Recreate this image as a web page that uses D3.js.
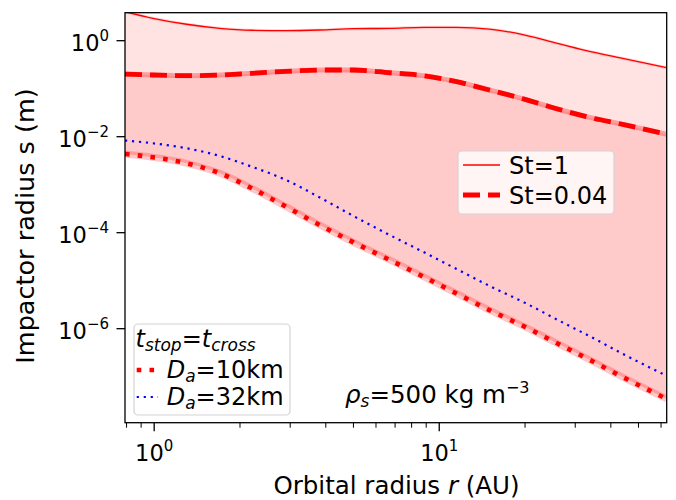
<!DOCTYPE html>
<html>
<head>
<meta charset="utf-8">
<script src="https://cdn.jsdelivr.net/npm/d3@7"></script>
<style>
  body { margin: 0; background: #fff; }
  text { font-family: "DejaVu Sans", sans-serif; fill: #000; }
</style>
</head>
<body>
<div id="chart"></div>
<script>
// orbital radius (AU) and impactor radius (m)
let radii  = [0.79, 0.99, 1.3, 1.7, 2.2, 2.9, 3.8, 5.0, 6.7, 8.8, 11.5, 15, 20, 26, 34, 44, 62.8];
let st1    = [4.0, 2.93, 2.20, 1.81, 1.65, 1.62, 1.67, 1.78, 1.81, 1.90, 1.90, 1.75, 1.31, 0.88, 0.59, 0.43, 0.274];
let st004  = [0.202, 0.193, 0.187, 0.193, 0.209, 0.230, 0.245, 0.245, 0.215, 0.187, 0.140, 0.094, 0.060, 0.0378, 0.0249, 0.0181, 0.0112];
let da10   = [4.36e-3, 3.72e-3, 2.79e-3, 1.73e-3, 8.41e-4, 3.48e-4, 1.45e-4, 6.3e-5, 2.70e-5, 1.21e-5, 5.41e-6, 2.43e-6, 1.09e-6, 4.90e-7, 2.19e-7, 9.81e-8, 3.45e-8];
let da32   = [8.34e-3, 7.29e-3, 5.73e-3, 3.96e-3, 2.37e-3, 1.25e-3, 5.46e-4, 2.23e-4, 8.95e-5, 3.96e-5, 1.75e-5, 7.79e-6, 3.45e-6, 1.53e-6, 6.78e-7, 3.00e-7, 1.04e-7];

let xTicks = [1, 10];
let yTicks = [1, 1e-2, 1e-4, 1e-6];

let w = 676, h = 500;
let pLeft = 125, pRight = 666.7, pTop = 12.7, pBottom = 422.7;

let svg = d3.select('#chart').append('svg').attr('width', w).attr('height', h);

let x = d3.scaleLog().domain([0.79, 62.8]).range([pLeft, pRight]);
let y = d3.scaleLog().domain([1.1e-8, 3.83]).range([pBottom, pTop]);

svg.append('clipPath').attr('id', 'clip')
  .append('rect').attr('x', pLeft).attr('y', pTop).attr('width', pRight - pLeft).attr('height', pBottom - pTop);

let plot = svg.append('g').attr('clip-path', 'url(#clip)');

let pts = radii.map((r, i) => ({r: r, a: st1[i], b: st004[i], c: da10[i], d: da32[i]}));

// shaded bands
let upperBand = d3.area().curve(d3.curveMonotoneX).x(p => x(p.r)).y0(p => y(p.b)).y1(p => y(p.a));
let lowerBand = d3.area().curve(d3.curveMonotoneX).x(p => x(p.r)).y0(p => y(p.c)).y1(p => y(p.b));
plot.append('path').attr('d', upperBand(pts)).attr('fill', '#ffe2e2');
plot.append('path').attr('d', lowerBand(pts)).attr('fill', '#ffcaca');

function lineOf(key) {
  return d3.line().curve(d3.curveMonotoneX).x(p => x(p.r)).y(p => y(p[key]))(pts);
}

// soft halos under the red lines
plot.append('path').attr('d', lineOf('a')).attr('fill', 'none').attr('stroke', 'red').attr('stroke-opacity', 0.15).attr('stroke-width', 3);
plot.append('path').attr('d', lineOf('b')).attr('fill', 'none').attr('stroke', 'red').attr('stroke-opacity', 0.3).attr('stroke-width', 5);
plot.append('path').attr('d', lineOf('c')).attr('fill', 'none').attr('stroke', 'red').attr('stroke-opacity', 0.22).attr('stroke-width', 7);

plot.append('path').attr('d', lineOf('a')).attr('fill', 'none').attr('stroke', 'red').attr('stroke-width', 1.3);
plot.append('path').attr('d', lineOf('b')).attr('fill', 'none').attr('stroke', 'red').attr('stroke-width', 4.8).attr('stroke-dasharray', '17,8');
plot.append('path').attr('d', lineOf('c')).attr('fill', 'none').attr('stroke', 'red').attr('stroke-width', 4.6).attr('stroke-dasharray', '4.6,8.2');
plot.append('path').attr('d', lineOf('d')).attr('fill', 'none').attr('stroke', 'blue').attr('stroke-width', 2.2).attr('stroke-dasharray', '2.2,4.8');

// axes
let xMinor = [];
[0.1, 1, 10].forEach(dec => d3.range(1, 10).forEach(k => {
  let v = dec * k;
  if (v >= 0.79 && v <= 62.8 && xTicks.indexOf(v) < 0) xMinor.push(v);
}));

let ax = svg.append('g').attr('stroke', '#000');
xMinor.forEach(v => ax.append('line').attr('x1', x(v)).attr('x2', x(v)).attr('y1', pBottom).attr('y2', pBottom + 5).attr('stroke-width', 1));
xTicks.forEach(v => ax.append('line').attr('x1', x(v)).attr('x2', x(v)).attr('y1', pBottom).attr('y2', pBottom + 8.5).attr('stroke-width', 1.3));
yTicks.forEach(v => ax.append('line').attr('x1', pLeft - 8.5).attr('x2', pLeft).attr('y1', y(v)).attr('y2', y(v)).attr('stroke-width', 1.3));

svg.append('rect').attr('x', pLeft).attr('y', pTop).attr('width', pRight - pLeft).attr('height', pBottom - pTop)
  .attr('fill', 'none').attr('stroke', '#000').attr('stroke-width', 1.3);

function sciLabel(t, v) {
  let e = Math.round(Math.log10(v));
  t.append('tspan').text('10');
  t.append('tspan').attr('dy', -10).attr('font-size', 15).text(e < 0 ? '\u2212' + (-e) : String(e));
}

xTicks.forEach(v => {
  let t = svg.append('text').attr('x', x(v)).attr('y', 461).attr('text-anchor', 'middle').attr('font-size', 22.5);
  sciLabel(t, v);
});
yTicks.forEach(v => {
  let t = svg.append('text').attr('x', 109).attr('y', y(v) + 10.5).attr('text-anchor', 'end').attr('font-size', 22.5);
  sciLabel(t, v);
});

svg.append('text').attr('x', 396.5).attr('y', 494).attr('text-anchor', 'middle').attr('font-size', 24.5)
  .html('Orbital radius <tspan font-style="italic">r</tspan> (AU)');
svg.append('text').attr('transform', 'translate(34,226) rotate(-90)').attr('text-anchor', 'middle').attr('font-size', 25.5)
  .text('Impactor radius s (m)');

// legend: Stokes numbers
let lg1 = svg.append('g');
lg1.append('rect').attr('x', 458).attr('y', 151).attr('width', 156).attr('height', 63).attr('rx', 4)
  .attr('fill', '#fff').attr('fill-opacity', 0.8).attr('stroke', '#d4d4d4').attr('stroke-width', 1.2);
lg1.append('line').attr('x1', 463).attr('x2', 500).attr('y1', 165).attr('y2', 165).attr('stroke', 'red').attr('stroke-width', 1.3);
lg1.append('line').attr('x1', 463).attr('x2', 500).attr('y1', 195).attr('y2', 195).attr('stroke', 'red').attr('stroke-width', 4.8).attr('stroke-dasharray', '17,8');
lg1.append('text').attr('x', 509).attr('y', 173.5).attr('font-size', 24).text('St=1');
lg1.append('text').attr('x', 509).attr('y', 203.5).attr('font-size', 24).text('St=0.04');

// legend: crossing time condition
let lg2 = svg.append('g');
lg2.append('rect').attr('x', 134).attr('y', 324).attr('width', 156).attr('height', 91).attr('rx', 4)
  .attr('fill', '#fff').attr('fill-opacity', 0.8).attr('stroke', '#d4d4d4').attr('stroke-width', 1.2);
lg2.append('text').attr('x', 135.5).attr('y', 347).attr('font-size', 24)
  .html('<tspan font-style="italic">t</tspan><tspan font-style="italic" font-size="17" dy="4">stop</tspan><tspan dy="-4">=</tspan><tspan font-style="italic">t</tspan><tspan font-style="italic" font-size="17" dy="4">cross</tspan>');
lg2.append('line').attr('x1', 136.7).attr('x2', 158).attr('y1', 370).attr('y2', 370).attr('stroke', 'red').attr('stroke-width', 4.6).attr('stroke-dasharray', '4.6,8.2');
lg2.append('line').attr('x1', 136.7).attr('x2', 158).attr('y1', 397).attr('y2', 397).attr('stroke', 'blue').attr('stroke-width', 2.2).attr('stroke-dasharray', '2.2,4.8');
lg2.append('text').attr('x', 166.7).attr('y', 377.5).attr('font-size', 24)
  .html('<tspan font-style="italic">D</tspan><tspan font-style="italic" font-size="17" dy="4">a</tspan><tspan dy="-4">=10km</tspan>');
lg2.append('text').attr('x', 166.7).attr('y', 404.5).attr('font-size', 24)
  .html('<tspan font-style="italic">D</tspan><tspan font-style="italic" font-size="17" dy="4">a</tspan><tspan dy="-4">=32km</tspan>');

svg.append('text').attr('x', 345).attr('y', 403).attr('font-size', 24.5)
  .html('<tspan font-style="italic">\u03c1</tspan><tspan font-style="italic" font-size="17" dy="4">s</tspan><tspan dy="-4">=500 kg m</tspan><tspan font-size="16" dy="-10">\u22123</tspan>');
</script>
</body>
</html>
